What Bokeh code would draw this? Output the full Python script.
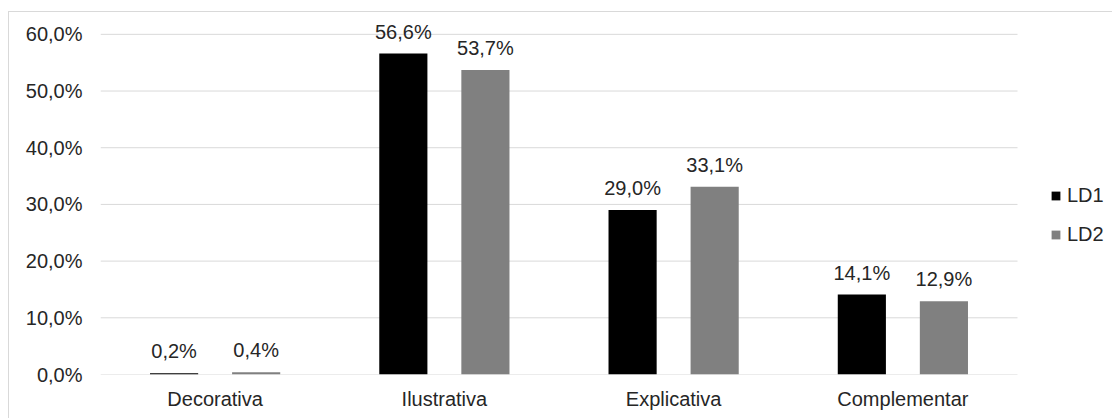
from bokeh.plotting import figure
from bokeh.models import (ColumnDataSource, Range1d, FixedTicker, CustomJSTickFormatter,
                          Legend, LegendItem)
from bokeh.core.properties import value
from bokeh.embed import file_html
from bokeh.resources import INLINE

categories = ["Decorativa", "Ilustrativa", "Explicativa", "Complementar"]
ld1 = [0.2, 56.6, 29.0, 14.1]
ld2 = [0.4, 53.7, 33.1, 12.9]
series_names = ["LD1", "LD2"]
series_colors = ["#000000", "#808080"]
y_ticks = [0, 10, 20, 30, 40, 50, 60]

FONT = "Liberation Sans"
TXT = "#262626"

def fmt(v):
    return f"{v:.1f}".replace(".", ",") + "%"

n = len(categories)
centers = [i + 0.5 for i in range(n)]
off = 0.179
w = 0.21

src = ColumnDataSource(dict(
    x1=[c - off for c in centers], x2=[c + off for c in centers],
    ld1=ld1, ld2=ld2,
    l1=[fmt(v) for v in ld1], l2=[fmt(v) for v in ld2],
))

# frame spans page x 100..1113 ; 229.25 px per category
p = figure(
    x_range=Range1d(0, 1013 / 229.25),
    y_range=Range1d(0, 63.5),
    width=1104, height=407,
    min_border_left=91, min_border_right=0, min_border_top=2, min_border_bottom=45,
    output_backend="svg", toolbar_location=None,
)
p.styles = {"margin-left": "8px", "margin-top": "11px",
            "border-left": "1px solid #d9d9d9", "border-top": "1px solid #d9d9d9"}

# horizontal gridlines only across the category area
p.segment(x0=[0] * len(y_ticks), x1=[n] * len(y_ticks), y0=y_ticks, y1=y_ticks,
          line_color="#d9d9d9", line_width=1)

r1 = p.vbar(x="x1", top="ld1", width=w, source=src,
            fill_color=series_colors[0], line_color=None)
r2 = p.vbar(x="x2", top="ld2", width=w, source=src,
            fill_color=series_colors[1], line_color=None)

for xc, col, lab in (("x1", "ld1", "l1"), ("x2", "ld2", "l2")):
    p.text(x=xc, y=col, text=lab, source=src,
           text_align="center", text_baseline="alphabetic", y_offset=-22,
           text_font=value(FONT), text_font_size="20px", text_color=TXT)

p.outline_line_color = None
p.xgrid.grid_line_color = None
p.ygrid.grid_line_color = None

p.yaxis.ticker = FixedTicker(ticks=y_ticks)
p.yaxis.formatter = CustomJSTickFormatter(code="return tick.toFixed(1).replace('.', ',') + '%';")
p.yaxis.axis_line_color = None
p.yaxis.major_tick_line_color = None
p.yaxis.minor_tick_line_color = None
p.yaxis.major_tick_out = 0
p.yaxis.major_label_standoff = 18
p.yaxis.major_label_text_font = FONT
p.yaxis.major_label_text_font_size = "20px"
p.yaxis.major_label_text_color = TXT

p.xaxis.ticker = FixedTicker(ticks=centers)
p.xaxis.formatter = CustomJSTickFormatter(args=dict(cats=categories),
                                          code="return cats[Math.floor(tick)];")
p.xaxis.axis_line_color = None
p.xaxis.major_tick_line_color = None
p.xaxis.minor_tick_line_color = None
p.xaxis.major_tick_out = 0
p.xaxis.major_label_standoff = 13
p.xaxis.major_label_text_font = FONT
p.xaxis.major_label_text_font_size = "20px"
p.xaxis.major_label_text_color = TXT

legend = Legend(
    items=[LegendItem(label=series_names[0], renderers=[r1]),
           LegendItem(label=series_names[1], renderers=[r2])],
    location=(950, 128),
    padding=0, margin=0, spacing=16,
    glyph_width=11, glyph_height=11, label_height=20, label_standoff=6,
    label_text_font=FONT, label_text_font_size="20px", label_text_color=TXT,
    border_line_color=None, background_fill_alpha=0,
)
p.add_layout(legend, "center")

open("out.html", "w").write(file_html(p, INLINE))
